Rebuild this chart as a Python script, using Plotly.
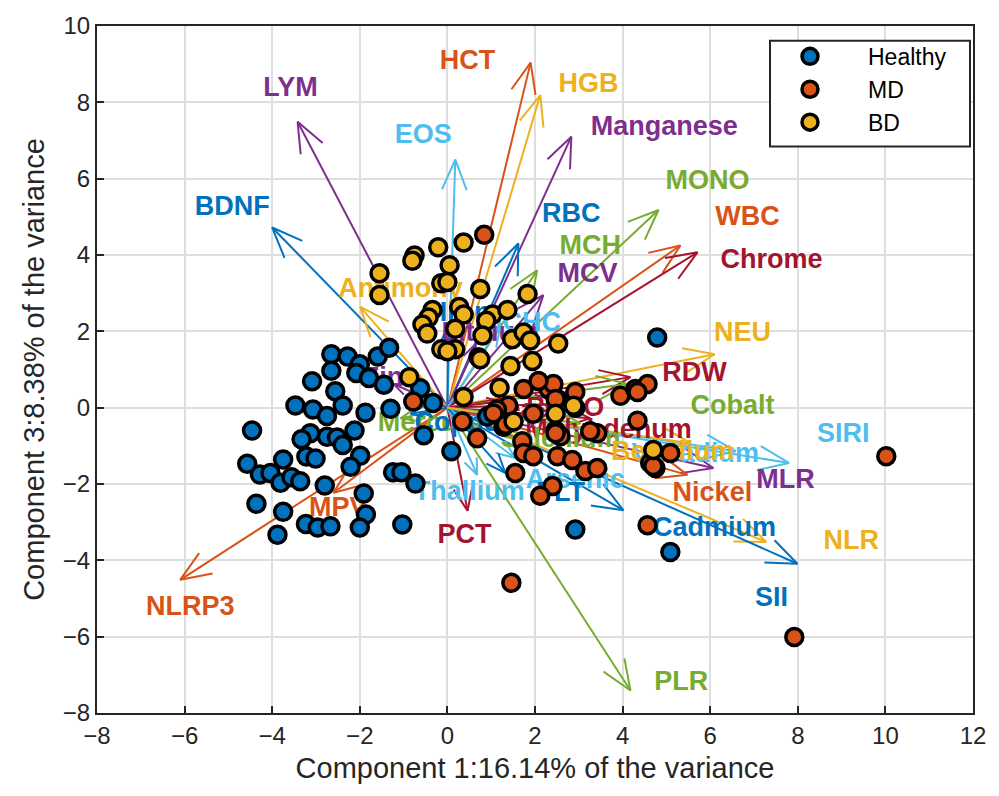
import math
import plotly.graph_objects as go

# ---------------- data ----------------
healthy_x = [-2.65,-2.28,-1.59,-1.33,-2.00,-2.65,-2.08,-1.79,-1.45,-3.09,-2.56,-2.39,-3.47,-3.07,-2.75,-1.87,-1.30,-2.12,-3.13,-3.33,-2.75,-2.52,-2.39,-4.46,-4.57,-4.28,-4.04,-3.75,-3.81,-3.56,-3.36,-3.22,-3.01,-1.99,-2.21,-2.80,-1.91,-1.24,-1.05,-0.73,-0.54,-0.62,-0.33,-4.36,-3.75,-1.86,-3.23,-2.96,-2.67,-2.00,-1.03,-3.88,0.09,2.92,4.79,5.09,0.91]
healthy_y = [1.40,1.34,1.34,1.57,1.14,0.97,0.91,0.78,0.60,0.69,0.43,0.06,0.06,-0.05,-0.22,-0.13,-0.03,-0.60,-0.67,-0.83,-0.76,-0.78,-0.98,-0.60,-1.47,-1.75,-1.71,-1.36,-1.97,-1.82,-1.93,-1.28,-1.33,-1.26,-1.55,-2.04,-2.25,-1.69,-1.69,-1.99,-0.72,0.51,0.12,-2.52,-2.73,-2.80,-3.05,-3.14,-3.11,-3.14,-3.06,-3.33,-1.14,-3.19,1.84,-3.78,-0.23]

md_x = [0.84,10.02,7.92,1.46,4.57,-0.78,1.74,2.31,2.92,2.51,1.39,1.10,1.96,0.34,1.28,0.68,1.71,2.47,3.42,3.95,4.29,4.34,1.74,1.96,2.51,2.85,3.15,3.42,1.55,2.40,2.12,5.09,4.63,4.75,4.57,4.34,2.42,2.47,2.08,1.13,1.05,3.26,1.33,2.58,4.70,2.47]
md_y = [4.53,-1.27,-6.01,-4.59,-3.08,0.16,0.49,0.49,0.41,0.23,0.05,-0.10,-0.16,-0.36,-0.50,-0.80,-0.88,-0.60,-0.67,0.31,0.49,-0.34,-1.19,-1.27,-1.27,-1.37,-1.66,-1.58,-1.71,-2.05,-2.31,-1.19,-1.45,-1.58,0.62,0.41,0.62,0.23,0.70,-0.05,-0.15,-0.62,-0.45,-0.75,-1.53,-0.67]

bd_x = [-1.55,-1.55,-0.75,-0.80,-0.21,0.05,0.37,-0.14,0.00,0.75,1.83,-0.34,-0.43,0.27,0.37,-0.57,0.18,1.03,1.37,0.89,0.80,-0.14,0.18,0.00,-0.46,1.48,1.74,1.89,2.53,1.44,1.94,0.71,0.75,1.19,2.47,2.92,2.88,4.70,-0.87,0.37,1.51]
bd_y = [3.52,2.95,3.99,3.85,4.20,3.73,4.33,3.26,3.29,3.11,2.98,2.56,2.36,2.64,2.44,2.18,2.07,2.44,2.56,2.28,1.89,1.53,1.53,1.48,1.94,1.79,1.97,1.76,1.68,1.09,1.22,1.32,1.27,0.52,-0.16,0.00,0.05,-1.11,0.80,0.28,-0.36]

var_names = ["NLRP3","BDNF","LYM","HCT","HGB","EOS","Manganese","MONO","WBC","Chrome",
             "RBC","MCH","MCV","Antimony","NEU","RDW","Cobalt","BASO","Molybdenum","SIRI",
             "MLR","Nickel","Cadmium","NLR","SII","PLR","PCT","Thallium","Arsenic","PLT",
             "MPV","Zinc","Mercury","Copper","Iron","Lithium","MCHC","Lead","Selenium","Vanadium",
             "Beryllium"]
tip_x = [-6.10,-4.00,-3.42,1.90,2.12,0.18,2.83,4.82,5.32,5.71,
         1.62,2.05,2.19,-1.99,6.10,4.18,4.11,2.58,3.26,7.80,
         6.07,5.48,4.02,7.28,7.99,4.18,0.46,0.68,1.55,1.32,
         -2.60,-1.23,-1.07,-0.84,0.02,0.64,1.21,1.21,3.04,6.58,
         5.55]
tip_y = [-4.51,4.72,7.49,9.04,8.19,6.50,7.10,5.18,4.25,4.07,
         4.30,3.60,2.95,2.64,1.40,0.80,0.62,0.10,-0.28,-1.45,
         -1.58,-1.76,-2.69,-3.52,-4.09,-7.41,-2.70,-1.76,-1.32,-1.71,
         -2.23,0.62,-0.28,-0.16,2.18,1.66,2.18,0.16,-0.41,-1.14,
         -0.93]
label_x = [-5.87,-4.91,-3.58,0.46,3.22,-0.55,4.95,5.94,6.85,7.40,
           2.83,3.26,3.20,-1.07,6.74,5.64,6.51,2.69,3.68,9.04,
           7.72,6.05,6.10,9.22,7.40,5.34,0.39,0.50,2.92,2.58,
           -2.49,-1.30,-0.39,0.33,0.41,0.98,1.67,1.67,2.58,5.66,
           5.14]
label_y = [-5.26,5.23,8.34,9.04,8.45,7.10,7.31,5.91,4.95,3.83,
           5.03,4.20,3.47,3.08,1.92,0.88,0.00,-0.05,-0.62,-0.73,
           -1.92,-2.28,-3.19,-3.52,-5.03,-7.23,-3.37,-2.23,-1.92,-2.28,
           -2.67,0.75,-0.44,-0.44,2.44,1.92,2.18,-0.10,-0.85,-1.24,
           -1.19]

BLUE, ORANGE, YELLOW, PURPLE, GREEN, LBLUE, DRED = "#0072BD","#D95319","#EDB120","#7E2F8E","#77AC30","#4DBEEE","#A2142F"
var_colors = [ORANGE,BLUE,PURPLE,ORANGE,YELLOW,LBLUE,PURPLE,GREEN,ORANGE,DRED,
              BLUE,GREEN,PURPLE,YELLOW,YELLOW,DRED,GREEN,DRED,DRED,LBLUE,
              PURPLE,ORANGE,BLUE,YELLOW,BLUE,GREEN,DRED,LBLUE,LBLUE,BLUE,
              ORANGE,PURPLE,GREEN,BLUE,BLUE,PURPLE,LBLUE,DRED,GREEN,LBLUE,
              YELLOW]

# ---------------- layout geometry ----------------
W, H = 999, 796
ML, MR, MT, MB = 97, 26, 18, 83
XR, YR = [-8, 12], [-8, 10]
PW, PH = W - ML - MR, H - MT - MB
sx = PW / (XR[1] - XR[0])
sy = PH / (YR[1] - YR[0])

fig = go.Figure()

# arrows (quiver style)
for name, tx, ty, c in zip(var_names, tip_x, tip_y, var_colors):
    px, py = tx * sx, ty * sy
    ln = math.hypot(px, py)
    ux, uy = px / ln, py / ln
    hl = min(33.0, max(15.0, 0.24 * ln))
    ang = math.radians(22)
    wings = []
    for s in (1, -1):
        ca, sa = math.cos(s * ang), math.sin(s * ang)
        rx, ry = ux * ca - uy * sa, ux * sa + uy * ca
        wings.append(((px - hl * rx) / sx, (py - hl * ry) / sy))
    xs = [0, tx, None, wings[0][0], tx, wings[1][0]]
    ys = [0, ty, None, wings[0][1], ty, wings[1][1]]
    fig.add_trace(go.Scatter(x=xs, y=ys, mode="lines", line=dict(color=c, width=2),
                             showlegend=False, hoverinfo="skip"))

# labels
for name, lx, ly, c in zip(var_names, label_x, label_y, var_colors):
    fig.add_trace(go.Scatter(x=[lx], y=[ly], mode="text", text=[name],
                             textposition="middle center",
                             textfont=dict(family="Liberation Sans, Arial", size=27, color=c, weight="bold"),
                             showlegend=False, hoverinfo="skip"))

# points
for nm, xs, ys, c in [("Healthy", healthy_x, healthy_y, BLUE),
                      ("MD", md_x, md_y, ORANGE),
                      ("BD", bd_x, bd_y, YELLOW)]:
    fig.add_trace(go.Scatter(x=xs, y=ys, mode="markers", name=nm,
                             marker=dict(size=17, color=c, line=dict(color="black", width=3.5))))

axis_common = dict(showgrid=True, gridcolor="#dedede", gridwidth=2, zeroline=False,
                   showline=True, mirror=True, linecolor="#262626", linewidth=2,
                   ticks="inside", ticklen=7, tickwidth=2, tickcolor="#262626",
                   tickfont=dict(size=24, color="#262626"), dtick=2)

def px2paper_x(p):
    return (p - ML) / PW

def px2paper_y(p):
    return (H - MB - p) / PH

# legend frame
fig.add_shape(type="rect", xref="paper", yref="paper",
              x0=px2paper_x(770), x1=px2paper_x(970), y0=px2paper_y(140), y1=px2paper_y(33),
              line=dict(color="#262626", width=2), fillcolor="white", layer="above")

fig.update_layout(
    width=W, height=H,
    margin=dict(l=ML, r=MR, t=MT, b=MB),
    paper_bgcolor="white", plot_bgcolor="white",
    font=dict(family="Liberation Sans, Arial", color="#262626"),
    xaxis=dict(range=XR, title=dict(text="Component 1:16.14% of the variance",
                                    font=dict(size=29), standoff=10), **axis_common),
    yaxis=dict(range=YR, title=dict(text="Component 3:8.38% of the variance",
                                    font=dict(size=29), standoff=10), **axis_common),
    legend=dict(x=px2paper_x(752), y=px2paper_y(27), xanchor="left", yanchor="top",
                borderwidth=0, bgcolor="rgba(0,0,0,0)",
                font=dict(size=23, color="black"), itemwidth=106,
                tracegroupgap=0),
)

fig.write_html("out.html")
